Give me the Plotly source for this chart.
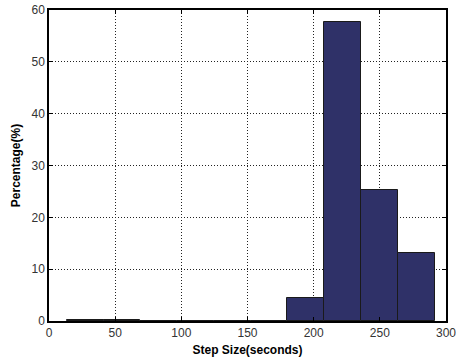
import plotly.graph_objects as go

bin_centers = [27.3, 55.1, 82.9, 110.7, 138.5, 166.3, 194.1, 221.9, 249.7, 277.5]
percentages = [0.2, 0.2, 0.0, 0.0, 0.0, 0.0, 4.4, 57.6, 25.3, 13.1]
bin_width = 27.8
x_ticks = [0, 50, 100, 150, 200, 250, 300]
y_ticks = [0, 10, 20, 30, 40, 50, 60]

fig = go.Figure()
fig.add_trace(go.Bar(
    x=bin_centers, y=percentages, width=bin_width,
    marker=dict(color="#2f3168", line=dict(color="#1a1a1a", width=1)),
))

font = "Liberation Sans, Arial, sans-serif"
axis_common = dict(
    showline=True, linecolor="black", linewidth=1.5, mirror="ticks",
    ticks="inside", ticklen=4, tickcolor="black",
    showgrid=True, gridcolor="#222222", griddash="1px,2px", gridwidth=1,
    zeroline=False, automargin=False, ticklabeloverflow="allow",
    tickfont=dict(family=font, size=12, color="#333333"),
)
fig.update_layout(
    width=456, height=363,
    margin=dict(l=49, r=10, t=10, b=42),
    paper_bgcolor="white", plot_bgcolor="white",
    showlegend=False, bargap=0,
    xaxis=dict(range=[0, 300], tickvals=x_ticks,
               title=dict(text="<b>Step Size(seconds)</b>", font=dict(family=font, size=12, color="black"), standoff=6),
               **axis_common),
    yaxis=dict(range=[0, 60], tickvals=y_ticks,
               title=dict(text="<b>Percentage(%)</b>", font=dict(family=font, size=12, color="black"), standoff=8),
               **axis_common),
)
fig.write_html("out.html")
